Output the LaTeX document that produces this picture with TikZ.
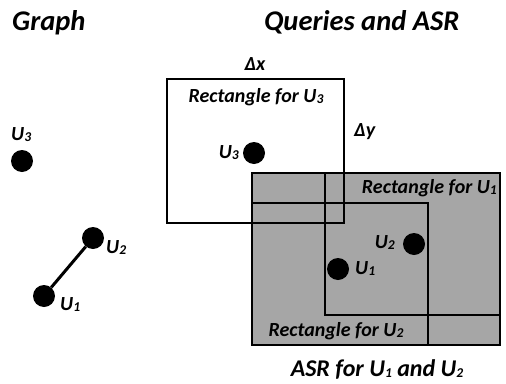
\documentclass[tikz,border=0pt]{standalone}
\usepackage{fontspec}
\setmainfont{Carlito}
\begin{document}
\begin{tikzpicture}[x=1pt,y=-1pt,
  lbl/.style={inner sep=0pt,font=\fontsize{20}{22}\selectfont\bfseries\itshape},
  ttl/.style={inner sep=0pt,font=\fontsize{28.5}{30}\selectfont\bfseries\itshape},
  dot/.style={circle,fill=black,minimum size=22pt,inner sep=0pt},
  box/.style={draw=black,line width=1.5pt},
  greyc/.style={fill={rgb,255:red,166;green,166;blue,166}}]
\useasboundingbox (0,0) rectangle (506,383);
\newcommand{\Us}[1]{U\raisebox{-0.15ex}{\fontsize{13.5}{14}\selectfont #1}}
% titles
\node[ttl,anchor=base west] (tg) at (12,30) {Graph};
\node[ttl,anchor=base west] (tq) at (264,30) {Queries and ASR};
% left graph
\node[dot] (g3) at (22,161) {};
\node[dot] (g2) at (93,238) {};
\node[dot] (g1) at (44,296) {};
\draw[line width=3pt] (g1) -- (g2);
\node[lbl,anchor=base west] (lg3) at (11,140) {\Us{3}};
\node[lbl,anchor=base west] (lg2) at (106,253) {\Us{2}};
\node[lbl,anchor=base west] (lg1) at (60,310) {\Us{1}};
% rectangles
\fill[white] (167,79) rectangle (344,223);
\fill[greyc] (252,173) rectangle (500,345);
\draw[box] (167,79) rectangle (344,223);
\draw[box] (252,173) rectangle (500,345);
\draw[box] (325,173) rectangle (500,315);
\draw[box] (252,203) rectangle (428,345);
% labels
\node[lbl,anchor=base] (dx) at (255,70) {Δx};
\node[lbl,anchor=base west] (dy) at (354,136) {Δy};
\node[lbl,anchor=base] (r3) at (256,102) {Rectangle for \Us{3}};
\node[lbl,anchor=base east] (r1) at (497,193) {Rectangle for \Us{1}};
\node[lbl,anchor=base] (r2) at (336,336) {Rectangle for \Us{2}};
\node[lbl,font=\fontsize{24}{26}\selectfont\bfseries\itshape,anchor=base] (asr) at (377,376) {ASR for \Us{1} and \Us{2}};
% dots
\node[dot] (q3) at (254,153) {};
\node[dot] (q2) at (414,244) {};
\node[dot] (q1) at (338,269) {};
\node[lbl,anchor=base east] (lq3) at (239,158) {\Us{3}};
\node[lbl,anchor=base east] (lq2) at (395,248) {\Us{2}};
\node[lbl,anchor=base west] (lq1) at (355,274) {\Us{1}};
\end{tikzpicture}
\end{document}
